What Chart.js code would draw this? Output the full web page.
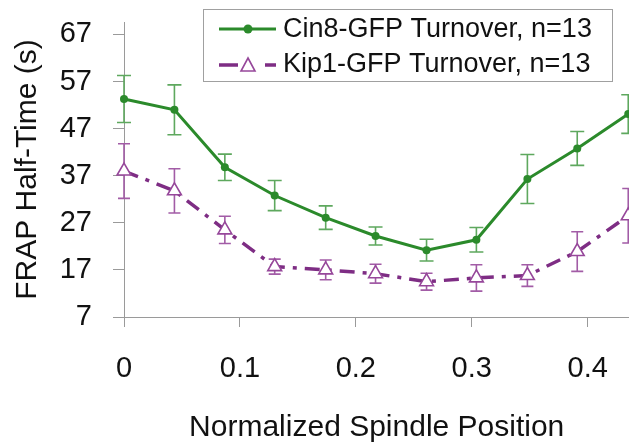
<!DOCTYPE html>
<html>
<head>
<meta charset="utf-8">
<script src="https://cdn.jsdelivr.net/npm/chart.js@4/dist/chart.umd.min.js"></script>
<style>
  html, body { margin: 0; padding: 0; background: #fff; overflow: hidden; }
  #wrap { width: 629px; height: 442px; position: relative; overflow: hidden; }
  #c { position: absolute; left: 0; top: 0; }
</style>
</head>
<body>
<div id="wrap"><canvas id="c" width="639" height="442"></canvas></div>
<script>
// ---- data ----
const positions = [0, 0.0435, 0.087, 0.13, 0.174, 0.217, 0.261, 0.304, 0.348, 0.391, 0.435];
const cin8Values = [53.3, 51.0, 38.8, 32.8, 28.1, 24.2, 21.2, 23.4, 36.3, 42.8, 50.1];
const cin8Errors = [5.0, 5.3, 2.8, 3.2, 2.5, 1.9, 2.3, 2.6, 5.2, 3.6, 4.1];
const kip1Values = [38.0, 33.8, 25.5, 17.7, 17.0, 16.2, 14.5, 15.3, 15.8, 20.9, 28.5];
const kip1Errors = [5.8, 4.7, 2.9, 1.6, 2.1, 2.0, 1.8, 2.8, 2.3, 4.2, 5.8];
const xTickValues = [0, 0.1, 0.2, 0.3, 0.4];
const yTickValues = [7, 17, 27, 37, 47, 57, 67];
const seriesLabels = ['Cin8-GFP Turnover, n=13', 'Kip1-GFP Turnover, n=13'];
const xTitle = 'Normalized Spindle Position';
const yTitle = 'FRAP Half-Time (s)';

const FONT = "'Liberation Sans', Arial, sans-serif";
const GREEN = '#2b8a2b', GREEN_ERR = '#5ea85e';
const PURPLE = '#7e2d84', PURPLE_ERR = '#a25ca6', PURPLE_MARK = '#96479a';
const AXIS = '#9a9a9a';

const toPoints = (xs, ys) => xs.map((x, i) => ({x: x, y: ys[i]}));

const errorBarPlugin = {
  id: 'errorBars',
  beforeDatasetsDraw(chart) {
    const ctx = chart.ctx;
    const xs = chart.scales.x, ys = chart.scales.y;
    chart.data.datasets.forEach((ds) => {
      const errs = ds.errors;
      if (!errs) return;
      ctx.save();
      ctx.strokeStyle = ds.errorColor;
      ctx.lineWidth = 1.6;
      ds.data.forEach((p, i) => {
        const px = xs.getPixelForValue(p.x);
        const top = ys.getPixelForValue(p.y + errs[i]);
        const bot = ys.getPixelForValue(p.y - errs[i]);
        const w = ds.capHalf;
        ctx.beginPath();
        ctx.moveTo(px, top); ctx.lineTo(px, bot);
        ctx.moveTo(px - w, top); ctx.lineTo(px + w, top);
        ctx.moveTo(px - w, bot); ctx.lineTo(px + w, bot);
        ctx.stroke();
      });
      ctx.restore();
    });
  }
};

const legendPlugin = {
  id: 'boxLegend',
  afterDraw(chart) {
    const ctx = chart.ctx;
    ctx.save();
    ctx.strokeStyle = '#a0a0a0';
    ctx.lineWidth = 1;
    ctx.strokeRect(203.5, 9.5, 409, 72);
    // row 1
    ctx.strokeStyle = GREEN; ctx.lineWidth = 3;
    ctx.beginPath(); ctx.moveTo(219, 29); ctx.lineTo(276, 29); ctx.stroke();
    ctx.fillStyle = GREEN;
    ctx.beginPath(); ctx.arc(248, 29, 4.5, 0, Math.PI * 2); ctx.fill();
    // row 2
    ctx.strokeStyle = PURPLE; ctx.lineWidth = 3.5;
    ctx.beginPath(); ctx.moveTo(219, 65); ctx.lineTo(238, 65); ctx.moveTo(265, 65); ctx.lineTo(276, 65); ctx.stroke();
    ctx.fillStyle = '#fff';
    ctx.strokeStyle = PURPLE_MARK; ctx.lineWidth = 1.6;
    ctx.beginPath();
    ctx.moveTo(248, 58); ctx.lineTo(255, 71); ctx.lineTo(241, 71); ctx.closePath();
    ctx.fill(); ctx.stroke();
    // text
    ctx.fillStyle = '#111';
    ctx.font = '27px ' + FONT;
    ctx.textBaseline = 'middle';
    ctx.textAlign = 'left';
    ctx.fillText(seriesLabels[0], 283, 30);
    ctx.fillText(seriesLabels[1], 283, 65);
    ctx.restore();
  }
};

new Chart(document.getElementById('c'), {
  type: 'line',
  data: {
    datasets: [
      {
        label: seriesLabels[0],
        data: toPoints(positions, cin8Values),
        errors: cin8Errors, errorColor: GREEN_ERR, capHalf: 7,
        borderColor: GREEN, borderWidth: 3,
        pointStyle: 'circle', pointRadius: 4,
        pointBackgroundColor: GREEN, pointBorderColor: GREEN, pointBorderWidth: 0,
        tension: 0, clip: false
      },
      {
        label: seriesLabels[1],
        data: toPoints(positions, kip1Values),
        errors: kip1Errors, errorColor: PURPLE_ERR, capHalf: 6,
        borderColor: PURPLE, borderWidth: 3.5, borderDash: [15, 8, 4, 8],
        pointStyle: 'triangle', pointRadius: 8,
        pointBackgroundColor: '#ffffff', pointBorderColor: PURPLE_MARK, pointBorderWidth: 1.6,
        tension: 0, clip: false
      }
    ]
  },
  options: {
    responsive: false,
    animation: false,
    devicePixelRatio: 1,
    layout: { padding: { top: 22, right: 0, left: 0, bottom: 0 } },
    plugins: { legend: { display: false }, tooltip: { enabled: false } },
    scales: {
      x: {
        type: 'linear', min: 0, max: 0.436,
        afterBuildTicks: (s) => { s.ticks = xTickValues.map(v => ({value: v})); },
        afterFit: (s) => { s.height = 125; s.paddingLeft = 0; s.paddingRight = 0; },
        border: { display: true, color: AXIS, width: 1 },
        grid: { display: true, drawOnChartArea: false, drawTicks: true, tickLength: 10, color: AXIS },
        ticks: {
          padding: 25, color: '#111', font: { family: FONT, size: 29 },
          maxRotation: 0, callback: (v) => String(v)
        },
        title: {
          display: true, text: xTitle, color: '#111',
          font: { family: FONT, size: 30, lineHeight: 0.94 }, padding: { top: 0, bottom: 0 }
        }
      },
      y: {
        type: 'linear', min: 7, max: 69.65,
        afterBuildTicks: (s) => { s.ticks = yTickValues.map(v => ({value: v})); },
        afterFit: (s) => { s.width = 124; s.paddingTop = 0; s.paddingBottom = 0; },
        border: { display: true, color: AXIS, width: 1 },
        grid: { display: true, drawOnChartArea: false, drawTicks: true, tickLength: 11, color: AXIS },
        ticks: {
          padding: 21, color: '#111', font: { family: FONT, size: 29 },
          callback: (v) => String(v)
        },
        title: {
          display: true, text: yTitle, color: '#111',
          font: { family: FONT, size: 30 }, padding: { top: 10, bottom: 0 }
        }
      }
    }
  },
  plugins: [errorBarPlugin, legendPlugin]
});
</script>
</body>
</html>
